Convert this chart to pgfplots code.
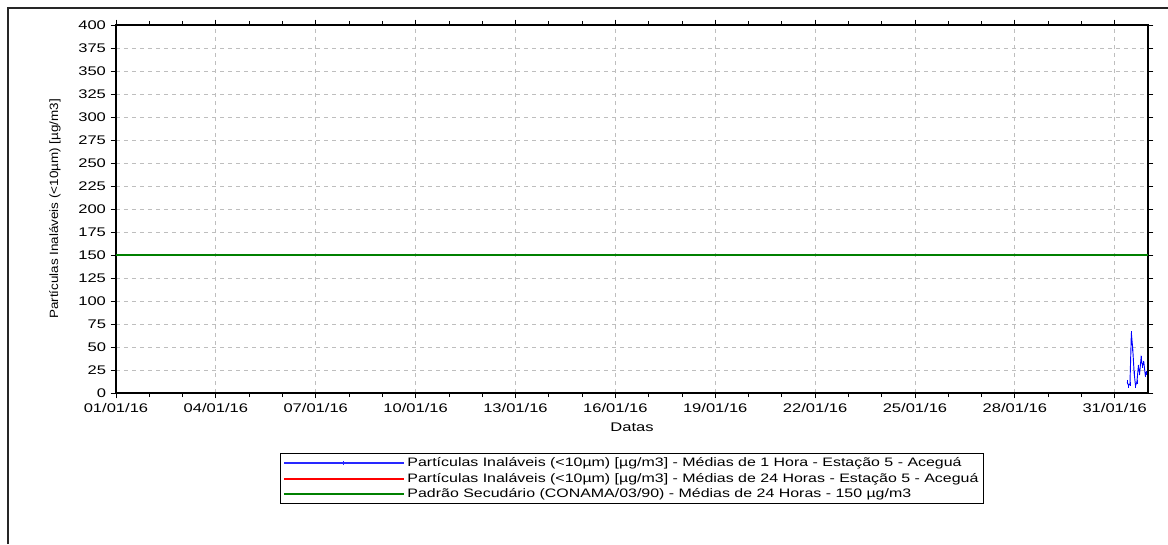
\documentclass[border=0pt]{standalone}
\usepackage{fontspec}
\setmainfont{Liberation Sans}
\usepackage{pgfplots}
\pgfplotsset{compat=1.18}
\definecolor{gridgray}{RGB}{190,190,190}
\definecolor{sgreen}{RGB}{0,128,0}
\definecolor{pblue}{RGB}{0,0,255}
\definecolor{lblue}{RGB}{40,40,255}
\newcommand{\legtxt}[1]{\scalebox{1.3}[1]{#1}}
\newcommand{\ticktxt}[1]{\scalebox{1.32}[1]{#1}}
\begin{document}
\begin{tikzpicture}
\useasboundingbox (0,0) rectangle (876pt,408pt);
\draw[line width=0.8pt,black!85] (6pt,0pt) -- (6pt,402pt) -- (876pt,402pt);
\begin{axis}[
  at={(87pt,113.25pt)}, anchor=south west,
  scale only axis, width=774pt, height=276pt,
  xmin=1, xmax=32, ymin=0, ymax=400,
  xtick={1,4,7,10,13,16,19,22,25,28,31},
  xticklabels={\ticktxt{01/01/16},\ticktxt{04/01/16},\ticktxt{07/01/16},\ticktxt{10/01/16},\ticktxt{13/01/16},\ticktxt{16/01/16},\ticktxt{19/01/16},\ticktxt{22/01/16},\ticktxt{25/01/16},\ticktxt{28/01/16},\ticktxt{31/01/16}},
  minor x tick num=2,
  ytick={0,25,...,400},
  yticklabel={\ticktxt{\pgfmathprintnumber{\tick}}},
  tick align=outside,
  major tick length=4pt, minor tick length=3pt,
  tick style={black, line width=0.6pt},
  axis line style={line width=1.1pt},
  grid=major,
  major grid style={gridgray, dash pattern=on 3pt off 3pt, line width=0.6pt},
  /pgf/number format/assume math mode=true,
  tick label style={font=\fontsize{9.4}{10}\selectfont},
  xlabel={\ticktxt{Datas}}, xlabel style={font=\fontsize{9.4}{10}\selectfont, yshift=-1pt},
  ylabel={\scalebox{1.12}[1]{Partículas Inaláveis (<10µm) [µg/m3]}}, ylabel style={font=\fontsize{9}{10}\selectfont, yshift=6.5pt},
  legend style={at={(0.5,-0.163)}, anchor=north, font=\fontsize{9.2}{10.5}\selectfont,
    draw=black, line width=0.8pt, inner xsep=2pt, inner ysep=1pt, row sep=-0.6pt,
    cells={anchor=west}},
  legend cell align=left,
  legend image code/.code={\draw[#1] (0pt,0pt) -- (90pt,0pt);},
]
\addplot[pblue, line width=0.7pt, mark=|, mark size=1.6pt, mark options={line width=0.6pt}, forget plot] coordinates {
(31.375,12) (31.4167,8) (31.4583,10) (31.5,65) (31.5417,48) (31.5833,22) (31.625,8)
(31.6667,12) (31.7083,28) (31.75,22) (31.7917,38) (31.8333,30) (31.875,33) (31.9167,20) (31.9583,22)};
\addlegendimage{legend image code/.code={\fill[lblue, draw=none] (0pt,-0.45pt) rectangle (90pt,0.45pt); \fill[lblue, draw=none] (44.6pt,-1.6pt) rectangle (45.4pt,1.6pt);}}
\addlegendentry{\legtxt{Partículas Inaláveis (<10µm) [µg/m3] - Médias de 1 Hora - Estação 5 - Aceguá}}
\addlegendimage{red, line width=1.5pt}
\addlegendentry{\legtxt{Partículas Inaláveis (<10µm) [µg/m3] - Médias de 24 Horas - Estação 5 - Aceguá}}
\addplot[sgreen, line width=1.5pt] coordinates {(1,150) (32,150)};
\addlegendentry{\legtxt{Padrão Secudário (CONAMA/03/90) - Médias de 24 Horas - 150 µg/m3}}
\end{axis}
\end{tikzpicture}
\end{document}
